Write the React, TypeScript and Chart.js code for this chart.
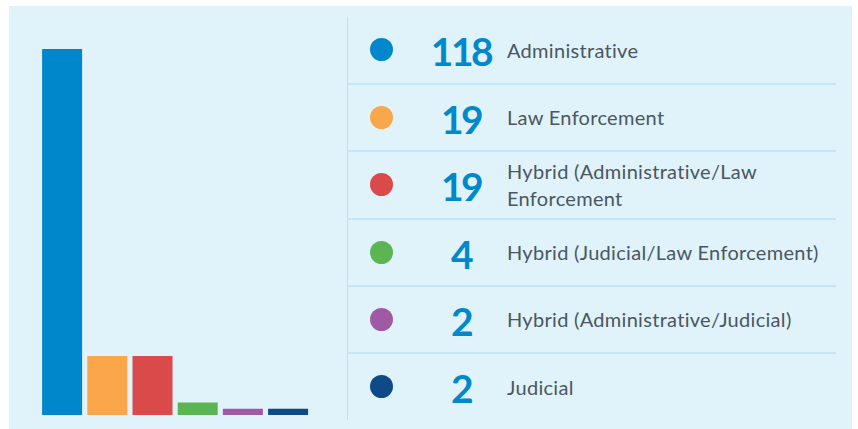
import React, { useEffect, useRef } from "react";
import { Chart, registerables } from "chart.js";

Chart.register(...registerables);

const categories = [
  "Administrative",
  "Law Enforcement",
  "Hybrid (Administrative/Law Enforcement",
  "Hybrid (Judicial/Law Enforcement)",
  "Hybrid (Administrative/Judicial)",
  "Judicial",
];
const counts = [118, 19, 19, 4, 2, 2];
const colors = ["#0086cb", "#f9a74a", "#da4a4a", "#5ab552", "#a05aa5", "#0d4a87"];
const rowHeights = [68, 67, 68, 67, 67, 66];

export default function App() {
  const ref = useRef<HTMLCanvasElement | null>(null);

  useEffect(() => {
    if (!ref.current) return;
    const chart = new Chart(ref.current, {
      type: "bar",
      data: {
        labels: categories,
        datasets: [
          {
            data: counts,
            backgroundColor: colors,
            borderWidth: 0,
            categoryPercentage: 1,
            barPercentage: 0.885,
          },
        ],
      },
      options: {
        animation: false,
        responsive: false,
        maintainAspectRatio: false,
        layout: { padding: { left: 30.5, right: 36.3, top: 43, bottom: 14 } },
        plugins: { legend: { display: false }, tooltip: { enabled: false } },
        scales: {
          x: { display: false },
          y: { display: false, min: 0, max: 118 },
        },
      },
    });
    return () => chart.destroy();
  }, []);

  return (
    <div
      style={{
        position: "absolute",
        left: 9,
        top: 6,
        width: 843,
        height: 430,
        background: "#e0f2fa",
        fontFamily: "Lato, sans-serif",
      }}
    >
      <canvas ref={ref} width={338} height={423} style={{ position: "absolute", left: 0, top: 0 }} />
      <div
        style={{
          position: "absolute",
          left: 338,
          top: 11,
          width: 488,
          height: 403,
          borderLeft: "1px solid #c2e2f3",
        }}
      >
        {categories.map((c, i) => (
          <div
            key={c}
            style={{
              boxSizing: "border-box",
              height: rowHeights[i],
              borderBottom: i === 5 ? "none" : "2px solid #c6e6f7",
              display: "flex",
              alignItems: "center",
              position: "relative",
            }}
          >
            <div
              style={{
                position: "absolute",
                left: 22,
                top: "50%",
                marginTop: -12,
                width: 23,
                height: 23,
                borderRadius: "50%",
                background: colors[i],
              }}
            />
            <div
              style={{
                position: "absolute",
                left: 76,
                top: "50%",
                marginTop: -19,
                width: 74,
                textAlign: "center",
                fontSize: 39,
                fontWeight: 700,
                color: "#0088cc",
                letterSpacing: -2.5,
                lineHeight: "40px",
              }}
            >
              {counts[i]}
            </div>
            <div
              style={{
                position: "absolute",
                left: 159,
                width: 325,
                fontSize: 20,
                lineHeight: "27px",
                letterSpacing: 0.3,
                color: "#4a5762",
              }}
            >
              {c}
            </div>
          </div>
        ))}
      </div>
    </div>
  );
}
